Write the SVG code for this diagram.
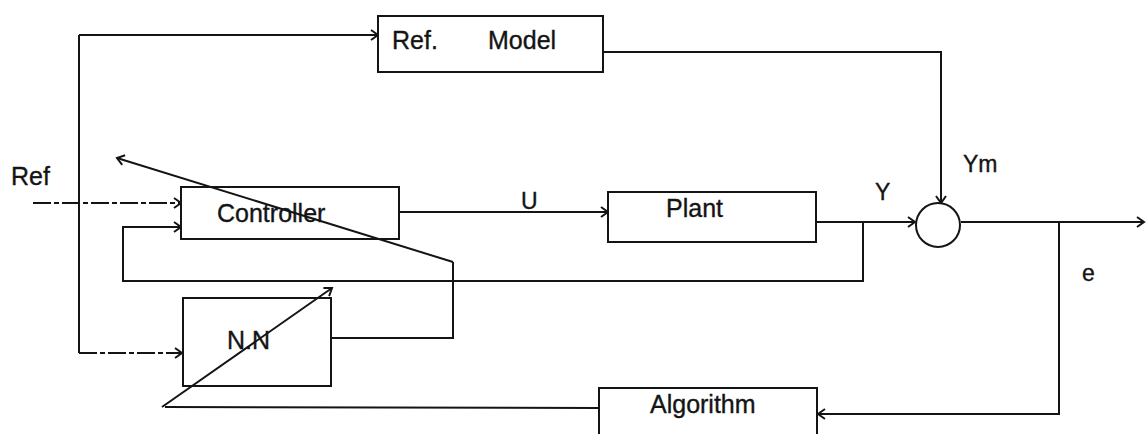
<svg xmlns="http://www.w3.org/2000/svg" width="1148" height="434" viewBox="0 0 1148 434">
<style>
.box{fill:#fff;stroke:#141414;stroke-width:2}
.ln{fill:none;stroke:#141414;stroke-width:2}
.dd{stroke-dasharray:18 3 5 3}
.t{font-family:"Liberation Sans",Arial,sans-serif;font-size:25px;fill:#141414;stroke:#141414;stroke-width:0.35}
.s{font-family:"Liberation Sans",Arial,sans-serif;font-size:23px;fill:#141414;stroke:#141414;stroke-width:0.35}
</style>
<defs>
<marker id="arr" markerUnits="userSpaceOnUse" markerWidth="12" markerHeight="12" refX="9" refY="6" orient="auto">
<path d="M2,1 L9,6 L2,11" fill="none" stroke="#141414" stroke-width="2"/>
</marker>
</defs>
<rect width="1148" height="434" fill="#fff"/>
<g id="connectors">
<path class="ln" d="M79,35 L378,35" marker-end="url(#arr)"/>
<path class="ln" d="M79,35 L79,353"/>
<path class="ln dd" d="M79,353 L182,353" marker-end="url(#arr)"/>
<path class="ln dd" d="M33,203 L181,203" marker-end="url(#arr)"/>
<path class="ln" d="M863,222 L863,281 L123,281 L123,227 L181,227" marker-end="url(#arr)"/>
<path class="ln" d="M399,212 L608,212" marker-end="url(#arr)"/>
<path class="ln" d="M816,222 L915,222" marker-end="url(#arr)"/>
<path class="ln" d="M603,52 L941,52 L941,203" marker-end="url(#arr)"/>
<path class="ln" d="M961,222 L1144,222" marker-end="url(#arr)"/>
<path class="ln" d="M1059,222 L1059,414 L818,414" marker-end="url(#arr)"/>
<path class="ln" d="M599,408 L165,407"/>
<path class="ln" d="M331,338 L453,338 L453,262"/>
</g>
<g id="ref-model">
<rect class="box" x="378" y="16" width="225" height="56"/>
<text class="t" x="392" y="49">Ref.</text>
<text class="t" x="488" y="49">Model</text>
</g>
<g id="controller">
<rect class="box" x="181" y="187" width="218" height="52"/>
<text class="t" x="217" y="222">Controller</text>
</g>
<g id="plant">
<rect class="box" x="608" y="192" width="208" height="50"/>
<text class="t" x="666" y="217">Plant</text>
</g>
<g id="sum">
<circle class="box" cx="938" cy="225" r="22"/>
</g>
<g id="nn">
<rect class="box" x="183" y="298" width="148" height="88"/>
<text class="t" x="227" y="349">N.N</text>
</g>
<g id="algorithm">
<rect class="box" x="599" y="388" width="218" height="48"/>
<text class="t" x="650" y="413">Algorithm</text>
</g>
<g id="adaptation">
<path class="ln" d="M162,407 L332,288" marker-end="url(#arr)"/>
<path class="ln" d="M453,262 L117,158" marker-end="url(#arr)"/>
</g>
<g id="labels">
<text class="t" x="11" y="185">Ref</text>
<text class="s" x="521" y="209">U</text>
<text class="s" x="875" y="200">Y</text>
<text class="s" x="963" y="172">Ym</text>
<text class="s" x="1082" y="281">e</text>
</g>
</svg>
